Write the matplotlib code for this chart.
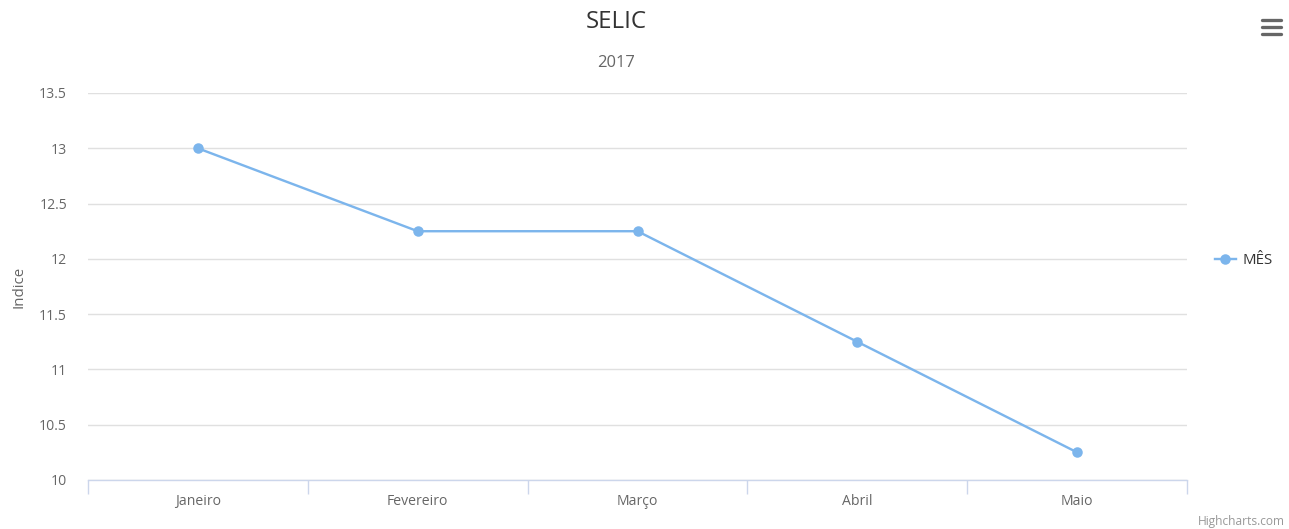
import matplotlib
matplotlib.use("Agg")
import matplotlib.pyplot as plt
from matplotlib.lines import Line2D
import numpy as np

categories = ["Janeiro", "Fevereiro", "Março", "Abril", "Maio"]
values = [13.0, 12.25, 12.25, 11.25, 10.25]
y_ticks = [10, 10.5, 11, 11.5, 12, 12.5, 13, 13.5]
y_tick_labels = ["10", "10.5", "11", "11.5", "12", "12.5", "13", "13.5"]
series_name = "MÊS"

plt.rcParams['font.family'] = ['Open Sans', 'DejaVu Sans']

W, H = 1289, 529
dpi = 100
fig = plt.figure(figsize=(W / dpi, H / dpi), dpi=dpi)
px = 72 / dpi  # points per pixel

left, right, top, bottom = 88, 1187, 93, 480
ax = fig.add_axes([left / W, 1 - bottom / H, (right - left) / W, (bottom - top) / H])

x = np.arange(len(categories))
ax.plot(x, values, color="#7cb5ec", lw=2.4 * px, marker="o", markersize=10.5 * px,
        markeredgewidth=0, clip_on=False, zorder=3)

ax.set_xlim(-0.5, len(categories) - 0.5)
ax.set_ylim(10, 13.5)

ax.set_yticks(y_ticks)
ax.set_yticklabels(y_tick_labels)
ax.yaxis.grid(True, color="#e0e0e0", lw=1)
ax.set_axisbelow(True)
ax.tick_params(axis="y", length=0, pad=21 * px, labelsize=14 * px, labelcolor="#666666")

# x ticks at category boundaries, labels at centers
ax.set_xticks(np.arange(-0.5, len(categories), 1.0))
ax.set_xticklabels([])
ax.set_xticks(x, minor=True)
ax.set_xticklabels(categories, minor=True)
ax.tick_params(axis="x", which="major", length=10, color="#ccd6eb", width=1, direction="out")
ax.tick_params(axis="x", which="minor", length=0, pad=10, labelsize=14 * px, labelcolor="#666666")

for s in ["top", "right", "left"]:
    ax.spines[s].set_visible(False)
ax.spines["bottom"].set_color("#ccd6eb")
ax.spines["bottom"].set_linewidth(1)

ax.set_ylabel("Indice", fontsize=15 * px, color="#666666")
ax.yaxis.set_label_coords((26 - left) / (right - left), 0.5)

fig.text(616 / W, 1 - 22 / H, "SELIC", ha="center", va="center", fontsize=24 * px, color="#333333")
fig.text(616 / W, 1 - 63 / H, "2017", ha="center", va="center", fontsize=16.5 * px, color="#666666")

# legend
handle = Line2D([0], [0], color="#7cb5ec", lw=2.4 * px, marker="o", markersize=10.5 * px,
                markeredgewidth=0)
leg = fig.legend([handle], [series_name], loc="center left",
                 bbox_to_anchor=(1201 / W, 1 - 261 / H), frameon=False,
                 fontsize=15 * px, handlelength=1.4, handletextpad=0.5)
for t in leg.get_texts():
    t.set_color("#333333")

# menu icon
for yy in [20, 27, 34]:
    fig.add_artist(Line2D([1262 / W, 1281 / W], [1 - yy / H, 1 - yy / H],
                          color="#666666", lw=3.3 * px, solid_capstyle="round"))

fig.text(1285 / W, 1 - 521 / H, "Highcharts.com", ha="right", va="center",
         fontsize=12 * px, color="#999999")

fig.savefig("out.png", dpi=dpi, facecolor="white")
